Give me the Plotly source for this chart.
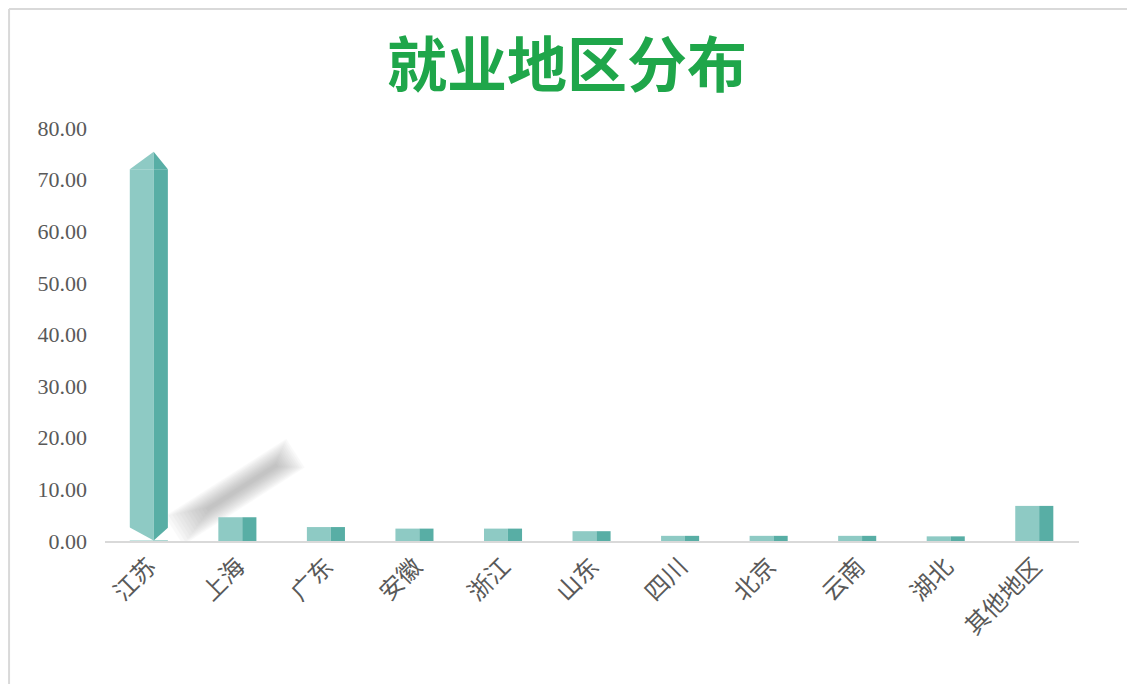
import plotly.graph_objects as go

categories = ["江苏", "上海", "广东", "安徽", "浙江", "山东", "四川", "北京", "云南", "湖北", "其他地区"]
values = [72.0, 4.6, 2.7, 2.4, 2.4, 1.9, 1.0, 1.0, 1.0, 0.9, 6.8]
y_ticks = [0, 10, 20, 30, 40, 50, 60, 70, 80]

FRONT = "#8ecac4"
SIDE = "#58aea5"
f_off, f_w = -0.22, 0.27
s_off, s_w = 0.05, 0.16

fig = go.Figure()
fig.add_trace(go.Bar(x=categories, y=values, width=f_w, offset=f_off,
                     marker=dict(color=FRONT, line=dict(width=0)), hoverinfo="x+y"))
fig.add_trace(go.Bar(x=categories, y=values, width=s_w, offset=s_off,
                     marker=dict(color=SIDE, line=dict(width=0)), hoverinfo="skip"))

shapes = []
# soft shadow behind the tallest bar (layered translucent strokes to fake a blur)
sx0, sy0, sx1, sy1 = 0.28, 2.0, 1.65, 17.0
n = 12
for i in range(n):
    t = i / (n - 1)              # 0 -> widest/longest, 1 -> narrowest/shortest
    w = 34 - 30 * t
    trim = 0.30 * t
    ax = sx0 + (sx1 - sx0) * (trim * 0.9)
    ay = sy0 + (sy1 - sy0) * (trim * 0.9)
    bx = sx1 - (sx1 - sx0) * (trim * 0.5)
    by = sy1 - (sy1 - sy0) * (trim * 0.5)
    shapes.append(dict(type="line", xref="x", yref="y", x0=ax, y0=ay, x1=bx, y1=by,
                       line=dict(color="#707070", width=w), opacity=0.035, layer="below"))
# bevelled top / bottom of the tallest bar
v0 = values[0]
xl, xm, xr = f_off, f_off + f_w, s_off + s_w
shapes.append(dict(type="path", xref="x", yref="y", layer="above", line=dict(width=0),
                   fillcolor=FRONT, path=f"M {xl} {v0} L {xm} {v0} L {xm} {v0+3.4} Z"))
shapes.append(dict(type="path", xref="x", yref="y", layer="above", line=dict(width=0),
                   fillcolor=SIDE, path=f"M {xm} {v0} L {xr} {v0} L {xm} {v0+3.4} Z"))
shapes.append(dict(type="path", xref="x", yref="y", layer="above", line=dict(width=0),
                   fillcolor="white", path=f"M {xl-0.01} 0.12 L {xl-0.01} 2.7 L {xm} 0.12 Z"))
shapes.append(dict(type="path", xref="x", yref="y", layer="above", line=dict(width=0),
                   fillcolor="white", path=f"M {xr+0.01} 0.12 L {xr+0.01} 2.7 L {xm} 0.12 Z"))
# frame lines (left and top)
shapes.append(dict(type="line", xref="paper", yref="paper", x0=-0.0985, x1=-0.0985, y0=-0.4, y1=1.288,
                   line=dict(color="#d9d9d9", width=2)))
shapes.append(dict(type="line", xref="paper", yref="paper", x0=-0.0985, x1=1.1, y0=1.288, y1=1.288,
                   line=dict(color="#d9d9d9", width=2)))

fig.update_layout(
    width=1135, height=684,
    barmode="overlay",
    showlegend=False,
    paper_bgcolor="white", plot_bgcolor="white",
    margin=dict(l=97, r=64, t=120, b=151),
    title=dict(text="<b>就业地区分布</b>", x=0.4925, xanchor="center", y=0.915, yanchor="middle",
               font=dict(family="Noto Sans CJK SC", size=60, color="#1fa64a")),
    xaxis=dict(showgrid=False, showline=True, linecolor="#d9d9d9", linewidth=2,
               tickangle=-45, tickfont=dict(family="Noto Sans CJK SC", size=24, color="#595959"),
               ticks=""),
    yaxis=dict(range=[0, 80], tickvals=y_ticks, tickformat=".2f", showgrid=False,
               zeroline=False, showline=False, ticklabelstandoff=17,
               tickfont=dict(family="Liberation Serif", size=22, color="#595959")),
    shapes=shapes,
)

fig.write_html("out.html")
